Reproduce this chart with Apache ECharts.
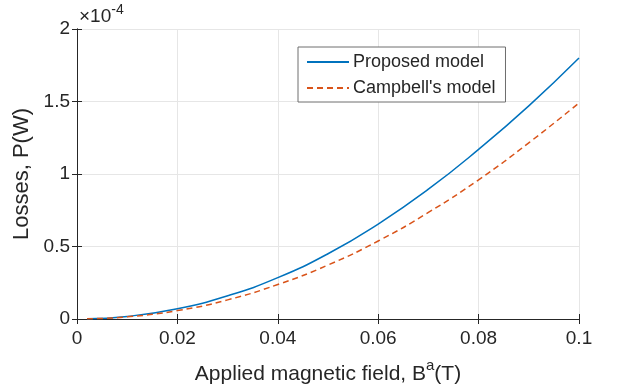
<!DOCTYPE html>
<html>
<head>
<meta charset="utf-8">
<script src="https://cdn.jsdelivr.net/npm/echarts@6/dist/echarts.min.js"></script>
<style>
  html, body { margin: 0; padding: 0; background: #fff; }
  #chart { width: 622px; height: 392px; }
</style>
</head>
<body>
<div id="chart"></div>
<script>
// field values (T)
const fieldValues = [0.002, 0.01, 0.02, 0.03, 0.04, 0.05, 0.06, 0.07, 0.08, 0.09, 0.1]
// losses in units of 1e-4 W
const proposedLosses = [0.001, 0.018, 0.071, 0.160, 0.285, 0.450, 0.655, 0.895, 1.170, 1.470, 1.800]
const campbellLosses = [0.001, 0.015, 0.058, 0.132, 0.238, 0.372, 0.538, 0.735, 0.960, 1.215, 1.490]
const seriesNames = ['Proposed model', "Campbell's model"]

const font = 'Liberation Sans, Arial, sans-serif'
const ink = '#262626'

const chart = echarts.init(document.getElementById('chart'))

const pairs = (ys) => fieldValues.map((x, i) => [x, ys[i]])

const boxAxis = {
	axisLine: { show: true, lineStyle: { color: ink, width: 1 } },
	axisTick: { show: true, inside: true, length: 5, lineStyle: { color: ink } },
	axisLabel: { show: false },
	splitLine: { show: false }
}

chart.setOption({
	animation: false,
	backgroundColor: '#fff',
	grid: { left: 77, right: 43, top: 29, bottom: 73, outerBoundsMode: 'none' },
	legend: {
		orient: 'vertical',
		left: 298,
		top: 47,
		itemWidth: 42,
		itemHeight: 10,
		itemGap: 8,
		padding: [6, 10, 5, 8],
		borderColor: '#6e6e6e',
		borderWidth: 1,
		backgroundColor: '#fff',
		itemStyle: { opacity: 0 },
		textStyle: { fontFamily: font, fontSize: 18, color: ink, padding: [0, 0, 0, -1] },
		data: seriesNames
	},
	graphic: [
		{
			type: 'text',
			left: 79,
			top: 3,
			style: {
				text: '{a|×10}{b|-4}',
				rich: {
					a: { fontFamily: font, fontSize: 19, fill: ink, verticalAlign: 'bottom' },
					b: { fontFamily: font, fontSize: 14, fill: ink, verticalAlign: 'top', padding: [0, 0, 9, 0] }
				}
			}
		}
	],
	xAxis: [
		{
			type: 'value',
			min: 0,
			max: 0.1,
			interval: 0.02,
			name: '{t|Applied magnetic field, B}{s|a}{t|(T)}',
			nameLocation: 'middle',
			nameGap: 39,
			nameTextStyle: {
				rich: {
					t: { fontFamily: font, fontSize: 21, color: ink, verticalAlign: 'bottom' },
					s: { fontFamily: font, fontSize: 15, color: ink, verticalAlign: 'top', padding: [0, 0, 12, 0] }
				}
			},
			axisLine: { show: true, lineStyle: { color: ink } },
			axisTick: { show: true, inside: true, length: 5, lineStyle: { color: ink } },
			axisLabel: {
				fontFamily: font,
				fontSize: 19,
				color: ink,
				margin: 10,
				formatter: (v) => (v === 0 ? '0' : String(+v.toFixed(2)))
			},
			splitLine: { show: true, lineStyle: { color: '#e6e6e6', width: 1 } }
		},
		Object.assign({ type: 'value', position: 'top', min: 0, max: 0.1, interval: 0.02 }, boxAxis)
	],
	yAxis: [
		{
			type: 'value',
			min: 0,
			max: 2,
			interval: 0.5,
			name: 'Losses, P(W)',
			nameLocation: 'middle',
			nameGap: 39,
			nameTextStyle: { fontFamily: font, fontSize: 22, color: ink },
			axisLine: { show: true, lineStyle: { color: ink } },
			axisTick: { show: true, inside: true, length: 5, lineStyle: { color: ink } },
			axisLabel: { fontFamily: font, fontSize: 19, color: ink, margin: 7 },
			splitLine: { show: true, lineStyle: { color: '#e6e6e6', width: 1 } }
		},
		Object.assign({ type: 'value', position: 'right', min: 0, max: 2, interval: 0.5 }, boxAxis)
	],
	series: [
		{
			name: seriesNames[0],
			type: 'line',
			smooth: true,
			symbol: 'none',
			color: '#0072BD',
			lineStyle: { color: '#0072BD', width: 1.5 },
			data: pairs(proposedLosses)
		},
		{
			name: seriesNames[1],
			type: 'line',
			smooth: true,
			symbol: 'none',
			color: '#D95319',
			lineStyle: { color: '#D95319', width: 1.5, type: [6, 4] },
			data: pairs(campbellLosses)
		}
	]
})
</script>
</body>
</html>
